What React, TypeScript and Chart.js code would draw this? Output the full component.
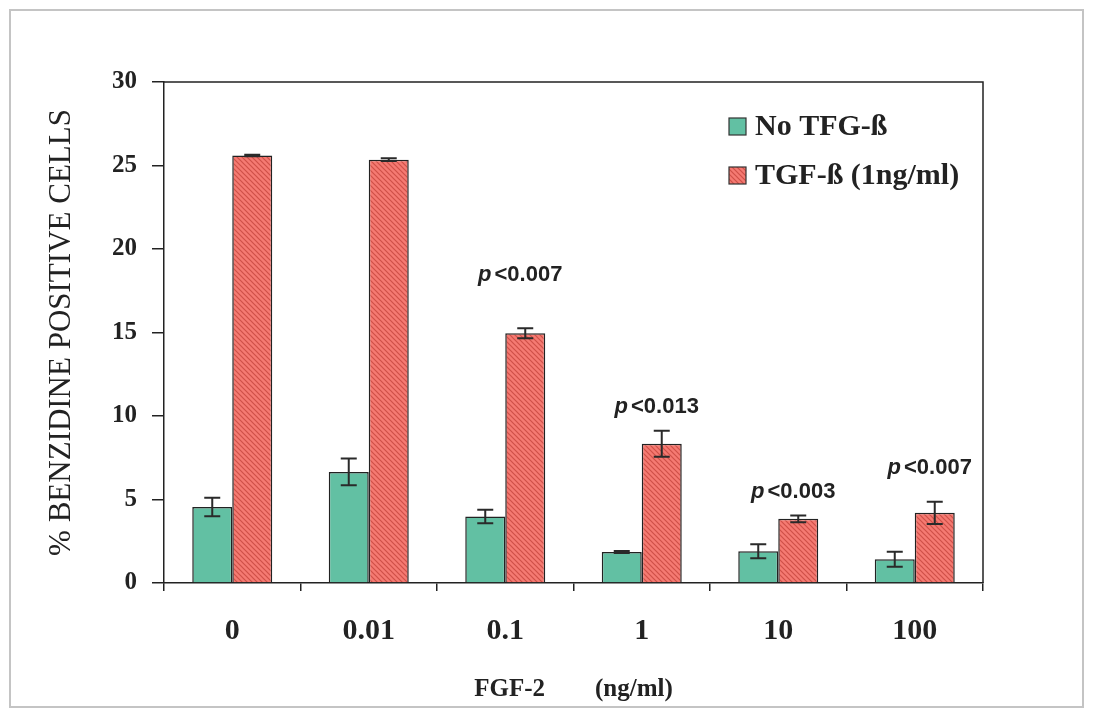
import { useEffect, useRef } from 'react';
import { Chart, registerables } from 'chart.js';

Chart.register(...registerables);

const categories = ['0', '0.01', '0.1', '1', '10', '100'];
const noTgfValues = [4.55, 6.65, 3.98, 1.86, 1.9, 1.42];
const noTgfErrors = [0.55, 0.8, 0.4, 0.06, 0.42, 0.45];
const tgfValues = [25.6, 25.35, 14.95, 8.34, 3.84, 4.2];
const tgfErrors = [0.05, 0.08, 0.3, 0.78, 0.2, 0.66];
const pLabels = ['', '', '<0.007', '<0.013', '<0.003', '<0.007'];
const pLabelLevels = [null, null, 18.1, 10.2, 5.1, 6.55];
const seriesLabels = ['No TFG-ß', 'TGF-ß (1ng/ml)'];
const yAxisTitle = '% BENZIDINE POSITIVE CELLS';
const xAxisTitle = 'FGF-2        (ng/ml)';

const GREEN = '#62c0a3';
const SERIF = "'Liberation Serif', 'Times New Roman', serif";
const SANS = "'Liberation Sans', Arial, sans-serif";

function makeHatch(): CanvasPattern | string {
  const c = document.createElement('canvas');
  c.width = 5;
  c.height = 5;
  const g = c.getContext('2d');
  if (!g) return '#ee6b6b';
  g.fillStyle = '#f57a72';
  g.fillRect(0, 0, 5, 5);
  g.strokeStyle = '#cf5048';
  g.lineWidth = 1.2;
  g.beginPath();
  g.moveTo(-1, -1);
  g.lineTo(6, 6);
  g.moveTo(-1, 4);
  g.lineTo(1, 6);
  g.moveTo(4, -1);
  g.lineTo(6, 1);
  g.stroke();
  const p = g.createPattern(c, 'repeat');
  return p || '#ee6b6b';
}

const overlayPlugin = {
  id: 'overlay',
  afterDatasetsDraw(chart: any) {
    const { ctx, chartArea, scales } = chart;
    const y = scales.y;
    ctx.save();

    // chart area top/right frame
    ctx.strokeStyle = '#222';
    ctx.lineWidth = 1.5;
    ctx.beginPath();
    ctx.moveTo(chartArea.left, chartArea.top);
    ctx.lineTo(chartArea.right, chartArea.top);
    ctx.lineTo(chartArea.right, chartArea.bottom);
    ctx.stroke();

    // error bars
    chart.data.datasets.forEach((ds: any, di: number) => {
      const meta = chart.getDatasetMeta(di);
      meta.data.forEach((bar: any, i: number) => {
        const v = ds.data[i];
        const e = ds.errors[i];
        const x = bar.x;
        const yt = y.getPixelForValue(v + e);
        const yb = y.getPixelForValue(v - e);
        ctx.strokeStyle = '#2a2a2a';
        ctx.lineWidth = 2;
        ctx.beginPath();
        ctx.moveTo(x, yt);
        ctx.lineTo(x, yb);
        ctx.moveTo(x - 8, yt);
        ctx.lineTo(x + 8, yt);
        ctx.moveTo(x - 8, yb);
        ctx.lineTo(x + 8, yb);
        ctx.stroke();
      });
    });

    // p-value labels above TGF bars
    const tgfMeta = chart.getDatasetMeta(1);
    pLabels.forEach((lab, i) => {
      const lvl = pLabelLevels[i];
      if (!lab || lvl === null) return;
      const bar = tgfMeta.data[i];
      const cx = bar.x - 5;
      const by = y.getPixelForValue(lvl);
      ctx.fillStyle = '#222';
      ctx.textBaseline = 'alphabetic';
      ctx.textAlign = 'left';
      ctx.font = `italic bold 22px ${SANS}`;
      const w1 = ctx.measureText('p').width;
      ctx.font = `bold 22px ${SANS}`;
      const w2 = ctx.measureText(lab).width;
      const gap = 3;
      const x0 = cx - (w1 + gap + w2) / 2;
      ctx.font = `italic bold 22px ${SANS}`;
      ctx.fillText('p', x0, by);
      ctx.font = `bold 22px ${SANS}`;
      ctx.fillText(lab, x0 + w1 + gap, by);
    });

    // legend
    const fills = [GREEN, chart.data.datasets[1].backgroundColor];
    seriesLabels.forEach((lab, i) => {
      const cy = 126 + i * 49;
      ctx.fillStyle = fills[i];
      ctx.fillRect(729, cy - 8, 17, 17);
      ctx.strokeStyle = '#333';
      ctx.lineWidth = 1.2;
      ctx.strokeRect(729, cy - 8, 17, 17);
      ctx.fillStyle = '#222';
      ctx.font = `bold 30px ${SERIF}`;
      ctx.textAlign = 'left';
      ctx.textBaseline = 'middle';
      ctx.fillText(lab, 755, cy + 1);
    });

    // outer frame
    ctx.strokeStyle = '#c4c4c4';
    ctx.lineWidth = 2;
    ctx.strokeRect(10, 10, 1073, 697);
    ctx.restore();
  },
};

export default function App() {
  const canvasRef = useRef<HTMLCanvasElement | null>(null);

  useEffect(() => {
    if (!canvasRef.current) return;
    const hatch = makeHatch();
    const chart = new Chart(canvasRef.current, {
      type: 'bar',
      data: {
        labels: categories,
        datasets: [
          {
            label: seriesLabels[0],
            data: noTgfValues,
            errors: noTgfErrors,
            backgroundColor: GREEN,
            borderColor: '#222',
            borderWidth: 1.5,
          } as any,
          {
            label: seriesLabels[1],
            data: tgfValues,
            errors: tgfErrors,
            backgroundColor: hatch,
            borderColor: '#222',
            borderWidth: 1.5,
          } as any,
        ],
      },
      options: {
        animation: false,
        responsive: true,
        maintainAspectRatio: false,
        events: [],
        layout: { padding: { left: 0, top: 82, right: 112, bottom: 0 } },
        datasets: {
          bar: { categoryPercentage: 0.586, barPercentage: 1.0 },
        },
        plugins: {
          legend: { display: false },
          tooltip: { enabled: false },
        },
        scales: {
          x: {
            type: 'category',
            offset: true,
            afterFit: (s: any) => {
              s.height = 137;
            },
            grid: {
              display: true,
              drawOnChartArea: false,
              tickLength: 8,
              color: '#222',
              lineWidth: 1.5,
              offset: true,
            },
            border: { display: true, color: '#222', width: 1.5 },
            ticks: {
              color: '#222',
              padding: 22,
              font: { family: SERIF, size: 30, weight: 'bold' },
            },
            title: {
              display: true,
              text: xAxisTitle,
              color: '#222',
              font: { family: SERIF, size: 25, weight: 'bold' },
              padding: { top: 0, bottom: 15 },
            },
          },
          y: {
            min: 0,
            max: 30,
            afterFit: (s: any) => {
              s.width = 164;
            },
            grid: {
              display: true,
              drawOnChartArea: false,
              tickLength: 12,
              color: '#222',
              lineWidth: 1.5,
            },
            border: { display: true, color: '#222', width: 1.5 },
            ticks: {
              stepSize: 5,
              color: '#222',
              padding: 15,
              font: { family: SERIF, size: 25, weight: 'bold' },
            },
            title: {
              display: true,
              text: yAxisTitle,
              color: '#222',
              font: { family: SERIF, size: 31, weight: 'normal' },
              padding: { top: 43, bottom: 0 },
            },
          },
        },
      },
      plugins: [overlayPlugin],
    });
    return () => chart.destroy();
  }, []);

  return (
    <div style={{ position: 'fixed', left: 0, top: 0, width: 1095, height: 720, background: '#fff' }}>
      <canvas ref={canvasRef} />
    </div>
  );
}
